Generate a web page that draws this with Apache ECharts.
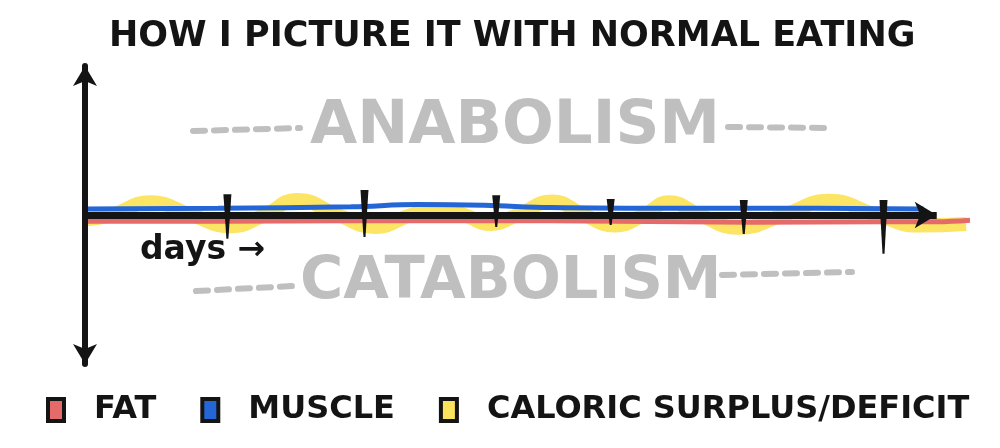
<!DOCTYPE html>
<html>
<head>
<meta charset="utf-8">
<script src="https://cdn.jsdelivr.net/npm/echarts@6/dist/echarts.min.js"></script>
<style>html,body{margin:0;padding:0;background:#fff;}#c{width:1000px;height:448px;}</style>
</head>
<body>
<div id="c"></div>
<script>
// ---- data (days on x, relative balance on y) ----
var titleText = 'HOW I PICTURE IT WITH NORMAL EATING';
var seriesNames = ['FAT', 'MUSCLE', 'CALORIC SURPLUS/DEFICIT'];
var surplusDeficit = [[0,-0.03],[0.2,0.0],[0.49,0.085],[0.8,0.0],[1.09,-0.075],[1.35,0.0],[1.59,0.1],[1.9,0.0],[2.18,-0.08],[2.45,0.0],[2.66,0.04],[2.85,0.0],[3.04,-0.06],[3.25,0.0],[3.51,0.09],[3.75,0.0],[3.98,-0.07],[4.2,0.0],[4.39,0.085],[4.62,0.0],[4.91,-0.085],[5.25,0.0],[5.59,0.095],[5.95,0.0],[6.26,-0.07],[6.62,-0.06]];
var muscle = [[0,0.04],[1,0.045],[2,0.055],[2.5,0.07],[3,0.065],[3.5,0.05],[4.5,0.045],[5.5,0.045],[6.3,0.04]];
var fat = [[0,-0.042],[1,-0.042],[2,-0.038],[3,-0.038],[4,-0.042],[5,-0.048],[6,-0.045],[6.4,-0.045],[6.65,-0.035]];
var dayTicks = [[1.07,0.14,-0.16],[2.1,0.167,-0.147],[3.09,0.133,-0.08],[3.95,0.107,-0.067],[4.95,0.1,-0.127],[6.0,0.1,-0.26]];
var axisEnd = 6.4;
var upperLabel = 'ANABOLISM';
var lowerLabel = 'CATABOLISM';
var axisLabelText = 'days \u2192';

var colors = {fat:'#e56b6b', muscle:'#2566d6', yellow:'#fce35c', ink:'#141414', gray:'#bfbfbf'};
var chart = echarts.init(document.getElementById('c'));
var dash = {type:'line', style:{stroke:colors.gray, lineWidth:6, lineDash:[12,9], lineCap:'round'}};
chart.setOption({
  animation:false,
  title:{text:titleText, left:104, top:14, textStyle:{fontFamily:'DejaVu Sans', fontWeight:'bold', fontSize:35, color:colors.ink}},
  grid:{left:85, right:30, top:66, bottom:84},
  xAxis:{type:'value', min:0, max:6.65,
    axisLine:{show:false}, axisTick:{show:false}, axisLabel:{show:false}, splitLine:{show:false}},
  yAxis:{type:'value', min:-1, max:1, z:5,
    axisLine:{show:true, symbol:['arrow','arrow'], symbolSize:[18,20], lineStyle:{color:colors.ink, width:6}},
    axisTick:{show:false}, axisLabel:{show:false}, splitLine:{show:false}},
  legend:{left:41, top:389, icon:'rect', itemWidth:16, itemHeight:22, itemGap:44,
    textStyle:{fontFamily:'DejaVu Sans', fontWeight:'bold', fontSize:32, color:colors.ink, padding:[0,0,0,25]},
    data:[
      {name:seriesNames[0], itemStyle:{color:colors.fat, borderColor:colors.ink, borderWidth:4}},
      {name:seriesNames[1], itemStyle:{color:colors.muscle, borderColor:colors.ink, borderWidth:4}},
      {name:seriesNames[2], itemStyle:{color:colors.yellow, borderColor:colors.ink, borderWidth:4}}
    ]},
  graphic:[
    {type:'text', left:310, top:97, z:1, style:{text:upperLabel, fill:colors.gray, font:'bold 61px "DejaVu Sans"'}},
    {type:'text', left:300, top:253, z:1, style:{text:lowerLabel, fill:colors.gray, font:'bold 59px "DejaVu Sans"'}},
    echarts.util.merge({shape:{x1:193,y1:131,x2:300,y2:128}}, dash, true),
    echarts.util.merge({shape:{x1:728,y1:127,x2:832,y2:128}}, dash, true),
    echarts.util.merge({shape:{x1:196,y1:291,x2:294,y2:286}}, dash, true),
    echarts.util.merge({shape:{x1:722,y1:275,x2:852,y2:272}}, dash, true),
    {type:'text', left:140, top:234, z:10, style:{text:axisLabelText, fill:colors.ink, font:'bold 33px "DejaVu Sans"'}}
  ],
  series:[
    {name:seriesNames[2], type:'line', data:surplusDeficit, smooth:0.5, symbol:'none', z:1,
      lineStyle:{color:colors.yellow, width:14, opacity:0.95}, itemStyle:{color:colors.yellow}},
    {name:seriesNames[1], type:'line', data:muscle, smooth:0.4, symbol:'none', z:2,
      lineStyle:{color:colors.muscle, width:5}, itemStyle:{color:colors.muscle}},
    {name:seriesNames[0], type:'line', data:fat, smooth:0.4, symbol:'none', z:2,
      lineStyle:{color:colors.fat, width:5}, itemStyle:{color:colors.fat}},
    {type:'custom', data:dayTicks, z:8, clip:false,
      markLine:{silent:true, symbol:['none','arrow'], symbolSize:[20,22], label:{show:false},
        lineStyle:{color:colors.ink, width:7, type:'solid'},
        data:[[{coord:[0,0]},{coord:[axisEnd,0]}]]},
      renderItem:function(params, api){
        var top = api.coord([api.value(0), api.value(1)]);
        var bot = api.coord([api.value(0), api.value(2)]);
        return {type:'polygon', shape:{points:[[top[0]-4,top[1]],[top[0]+4,top[1]],[bot[0]+1,bot[1]],[bot[0]-1,bot[1]]]}, style:{fill:colors.ink}};
      }}
  ]
});
</script>
</body>
</html>
